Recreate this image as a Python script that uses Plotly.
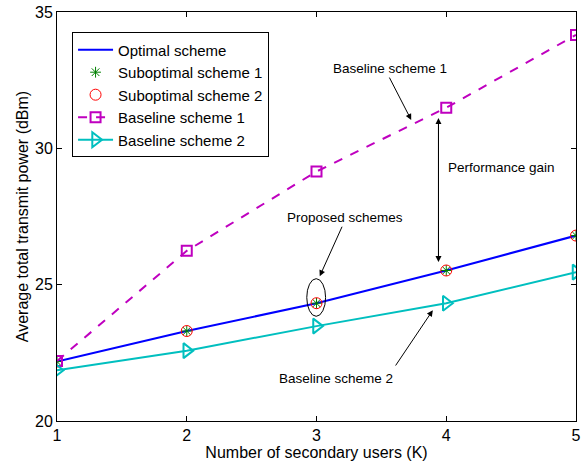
import plotly.graph_objects as go

# Number of secondary users
K = [1, 2, 3, 4, 5]

# Average total transmit power (dBm) for each scheme
optimal = [22.18, 23.30, 24.32, 25.52, 26.80]
suboptimal_1 = [22.18, 23.30, 24.32, 25.52, 26.80]
suboptimal_2 = [22.18, 23.30, 24.32, 25.52, 26.80]
baseline_1 = [22.20, 26.24, 29.15, 31.49, 34.16]
baseline_2 = [21.86, 22.58, 23.48, 24.32, 25.46]

y_ticks = [20, 25, 30, 35]

FONT = "Arial, Liberation Sans, sans-serif"
BLUE = "#0000FF"
MAGENTA = "#BF00BF"
CYAN = "#00BFBF"
GREEN = "#008000"
RED = "#FF0000"

fig = go.Figure()

fig.add_trace(go.Scatter(
    x=K, y=optimal, name="Optimal scheme", mode="lines",
    line=dict(color=BLUE, width=2)))
fig.add_trace(go.Scatter(
    x=K, y=suboptimal_1, name="Suboptimal scheme 1", mode="markers",
    marker=dict(symbol="asterisk-open", size=9, color=GREEN,
                line=dict(color=GREEN, width=1))))
fig.add_trace(go.Scatter(
    x=K, y=suboptimal_2, name="Suboptimal scheme 2", mode="markers",
    marker=dict(symbol="circle-open", size=11, color=RED,
                line=dict(color=RED, width=1))))
fig.add_trace(go.Scatter(
    x=K, y=baseline_1, name="Baseline scheme 1", mode="lines+markers",
    line=dict(color=MAGENTA, width=2, dash="dash"),
    marker=dict(symbol="square-open", size=10, color=MAGENTA,
                line=dict(color=MAGENTA, width=2))))
fig.add_trace(go.Scatter(
    x=K, y=baseline_2, name="Baseline scheme 2", mode="lines+markers",
    line=dict(color=CYAN, width=2),
    marker=dict(symbol="triangle-right-open", size=13, color=CYAN,
                line=dict(color=CYAN, width=2))))

# Text labels and arrows pointing at the curves
arrow = dict(showarrow=True, arrowhead=2, arrowsize=1.2, arrowwidth=1,
             arrowcolor="black", xref="x", yref="y", axref="x", ayref="y",
             text="")
label = dict(showarrow=False, xref="x", yref="y",
             font=dict(family=FONT, size=13.5, color="black"))

annotations = [
    dict(label, x=3.563, y=32.94, text="Baseline scheme 1"),
    dict(arrow, ax=3.556, ay=32.65, x=3.73, y=31.04),
    dict(label, x=4.422, y=29.28, text="Performance gain"),
    dict(arrow, ax=3.94, ay=25.83, x=3.94, y=31.11),
    dict(arrow, ax=3.94, ay=31.11, x=3.94, y=25.83),
    dict(label, x=3.218, y=27.46, text="Proposed schemes"),
    dict(arrow, ax=3.202, ay=27.18, x=3.025, y=25.31),
    dict(label, x=3.148, y=21.56, text="Baseline scheme 2"),
    dict(arrow, ax=3.602, ay=21.98, x=3.896, y=24.06),
]

fig.update_layout(
    width=583, height=461,
    margin=dict(l=57, r=7, t=12, b=40),
    paper_bgcolor="white", plot_bgcolor="white",
    font=dict(family=FONT, size=16, color="black"),
    showlegend=True,
    legend=dict(x=0.029, y=0.95, xanchor="left", yanchor="top",
                bgcolor="white", bordercolor="black", borderwidth=1,
                font=dict(family=FONT, size=15, color="black"),
                tracegroupgap=0, itemwidth=35),
    annotations=annotations,
    shapes=[dict(type="circle", xref="x", yref="y",
                 x0=2.925, x1=3.07, y0=23.84, y1=25.22,
                 line=dict(color="black", width=1))],
    xaxis=dict(range=[1, 5], tickvals=K, ticks="inside", ticklen=5,
               tickcolor="black", showline=True, linecolor="black",
               linewidth=1, mirror="ticks", showgrid=False, zeroline=False,
               automargin=False,
               title=dict(text="Number of secondary users (K)",
                          font=dict(size=16), standoff=2),
               tickfont=dict(size=16)),
    yaxis=dict(range=[20, 35], tickvals=y_ticks, ticks="inside", ticklen=5,
               tickcolor="black", showline=True, linecolor="black",
               linewidth=1, mirror="ticks", showgrid=False, zeroline=False,
               automargin=False,
               title=dict(text="Average total transmit power (dBm)",
                          font=dict(size=16), standoff=2),
               tickfont=dict(size=16)),
)

fig.write_html("out.html")
